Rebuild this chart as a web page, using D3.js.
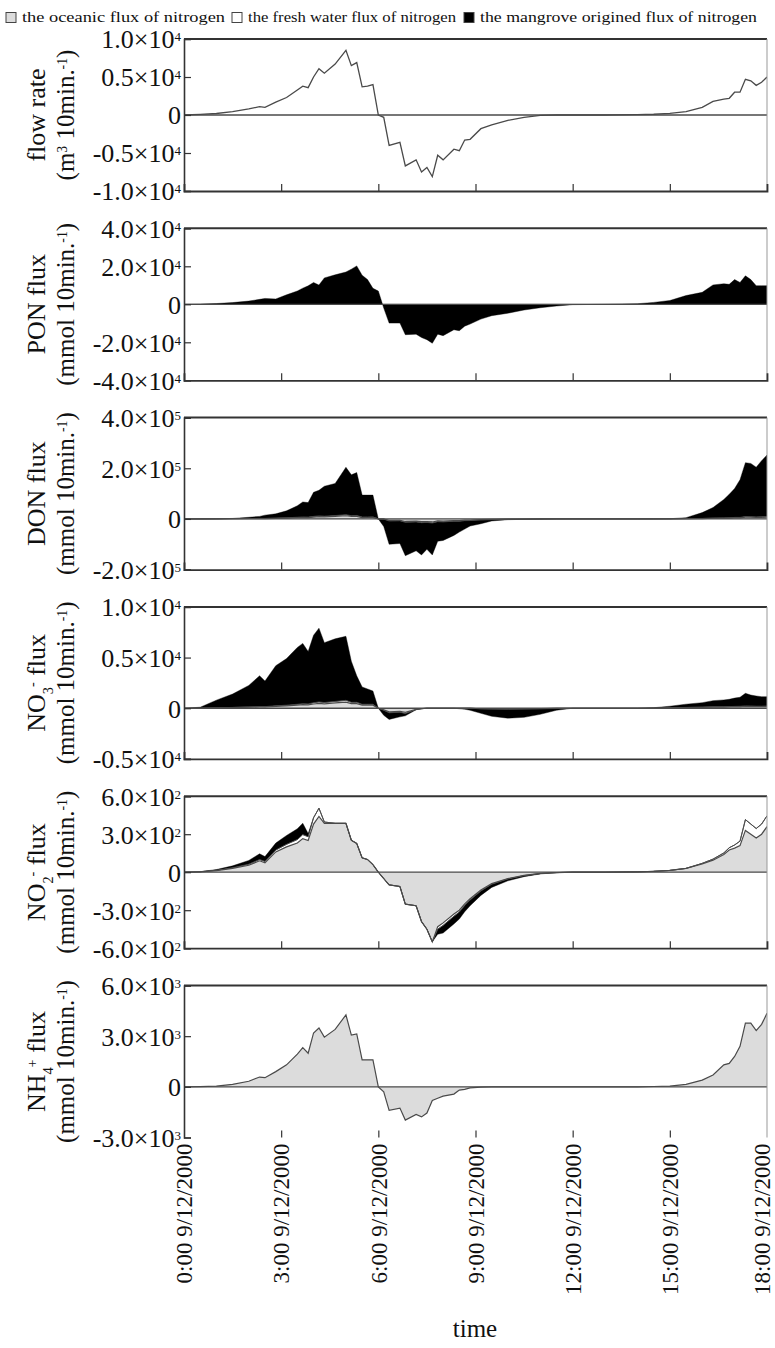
<!DOCTYPE html>
<html><head><meta charset="utf-8">
<script src="https://cdnjs.cloudflare.com/ajax/libs/d3/7.8.5/d3.min.js"></script>
<style>
body{margin:0;background:#fff}
svg{display:block}
text{font-family:"Liberation Serif","Times New Roman",serif;fill:#111}
</style>
</head><body>
<svg id="c" width="775" height="1348"></svg>
<script>
// ---- time axis (minutes after 0:00 9/12/2000) ----
const minutes = [0,30,60,90,120,140,150,170,190,210,220,230,240,250,260,280,300,310,320,330,340,350,360,370,380,400,410,430,440,450,460,470,480,500,510,520,530,550,570,600,630,660,690,720,780,840,870,900,930,960,980,1000,1010,1020,1030,1040,1050,1060,1070,1080];
const xTickMinutes = [0,180,360,540,720,900,1080];
const xTickLabels = ["0:00 9/12/2000","3:00 9/12/2000","6:00 9/12/2000","9:00 9/12/2000","12:00 9/12/2000","15:00 9/12/2000","18:00 9/12/2000"];

// ---- flow rate (m3 10min-1) ----
const flowRate = [0,80,200,450,800,1100,1000,1700,2300,3300,3800,3600,5000,6100,5500,6700,8500,6500,6900,3700,3800,4000,0,-300,-4000,-3600,-6700,-5900,-7500,-6900,-8100,-5300,-5900,-4500,-4700,-3300,-3200,-1800,-1300,-700,-300,-60,0,0,0,40,100,220,450,1000,1800,2100,2200,3000,3000,4700,4500,3900,4300,5000];

// ---- PON flux ----
const ponMangrove = [0,100,400,900,1700,2600,3100,2800,5000,7000,8500,9700,11500,10100,13900,15500,17000,18500,20200,15300,13000,8400,7000,-2000,-9900,-9900,-16000,-15700,-17500,-18600,-20500,-15700,-16500,-13400,-13900,-11500,-10400,-7800,-6000,-4700,-3000,-1800,-900,-200,0,300,1000,2000,4600,6300,10200,10800,10500,13000,11500,15000,13000,9800,9800,9800];

// ---- DON flux ----
const donOcean = [0,0,300,700,1200,1600,1500,2500,3400,5000,5700,5400,7500,9000,8200,10000,12500,9700,10300,5500,5700,6000,0,-400,-6000,-5400,-10000,-8800,-11000,-10300,-12000,-8000,-8800,-6700,-7000,-5000,-4800,-2700,-2000,-1000,-500,-100,0,0,0,0,0,300,700,1500,2700,3100,3300,4500,4500,7000,6700,5800,6400,7500];
const donFresh = [0,0,100,200,400,500,500,800,1100,1600,1900,1800,2500,3000,2700,3300,4200,3200,3400,1800,1900,2000,0,-100,-2000,-1800,-3300,-2900,-3700,-3400,-4000,-2700,-2900,-2200,-2300,-1700,-1600,-900,-700,-300,-200,0,0,0,0,0,0,100,200,500,900,1000,1100,1500,1500,2300,2200,1900,2100,2500];
const donMangrove = [0,0,100,1100,4900,7900,13000,16700,27500,45400,59400,57300,95000,101000,118100,126700,187300,161100,169300,86700,86400,86000,0,-29500,-92000,-89800,-131700,-114300,-127300,-106300,-126000,-77300,-73300,-56100,-42700,-33300,-21600,-15400,-5300,-1700,-800,-900,-500,0,0,0,200,400,4100,23000,41400,72900,92600,114000,149000,212700,210100,196300,221500,242000];

// ---- NO3- flux ----
const no3Ocean = [0,0,30,60,100,130,120,180,230,300,350,330,420,480,430,520,600,450,450,300,300,300,0,-150,-350,-300,-400,-100,-30,0,0,0,0,0,0,0,0,-50,-70,-80,-60,-40,-10,0,0,0,10,30,60,80,100,110,120,130,140,170,160,150,150,160];
const no3Fresh = [0,0,10,20,30,40,40,60,70,90,100,100,120,140,130,150,180,130,130,90,90,90,0,-50,-100,-90,-120,-30,-10,0,0,0,0,0,0,0,0,0,0,0,0,0,0,0,0,0,0,10,20,30,40,40,40,50,50,60,60,50,50,60];
const no3Mangrove = [0,100,760,1320,2120,3030,2520,3960,4600,5610,5950,5170,6660,7280,5910,6180,6320,4060,2620,1710,1510,1310,0,-500,-650,-460,-230,-20,-10,0,0,0,0,0,-50,-100,-200,-450,-730,-900,-840,-560,-190,0,0,0,40,160,320,440,610,670,720,820,890,1240,1080,1010,940,920];

// ---- NO2- flux ----
const no2Ocean = [0,3,12,30,55,90,75,160,200,230,265,250,380,440,386,386,386,252,227,113,100,60,0,-50,-100,-113,-252,-265,-390,-450,-550,-430,-400,-330,-300,-250,-210,-140,-90,-50,-25,-10,-3,0,0,3,7,14,30,65,95,140,175,190,210,330,300,270,300,360];
const no2Fresh = [0,1,3,5,8,10,10,15,20,28,32,30,50,65,10,0,0,0,0,0,0,0,0,0,0,0,0,0,0,0,0,-20,-20,-18,-15,-12,-10,-8,-5,-3,-2,-1,0,0,0,0,0,0,0,5,8,12,18,25,35,85,80,75,80,85];
const no2Mangrove = [0,0,6,15,30,45,38,55,70,85,90,25,0,0,0,0,0,0,0,0,0,0,0,0,0,0,0,0,0,0,0,-40,-60,-60,-55,-50,-45,-35,-25,-15,-8,-3,0,0,0,0,0,0,0,0,0,0,0,0,0,0,0,0,0,0];

// ---- NH4+ flux ----
const nh4Ocean = [0,10,40,150,330,580,540,900,1300,1940,2320,1990,3190,3480,2940,3400,4260,3060,3130,1600,1600,1600,0,-300,-1390,-1260,-1970,-1640,-1780,-1550,-810,-680,-550,-430,-190,-150,-60,-20,0,0,0,0,0,0,0,0,20,40,150,400,700,1300,1390,1800,2400,3770,3770,3330,3700,4350];

// ---- y ticks ----
const flowTicks = [1e4,5e3,0,-5e3,-1e4];
const flowTickText = ["1.0×10^4","0.5×10^4","0","-0.5×10^4","-1.0×10^4"];
const ponTicks = [4e4,2e4,0,-2e4,-4e4];
const ponTickText = ["4.0×10^4","2.0×10^4","0","-2.0×10^4","-4.0×10^4"];
const donTicks = [4e5,2e5,0,-2e5];
const donTickText = ["4.0×10^5","2.0×10^5","0","-2.0×10^5"];
const no3Ticks = [1e4,5e3,0,-5e3];
const no3TickText = ["1.0×10^4","0.5×10^4","0","-0.5×10^4"];
const no2Ticks = [600,300,0,-300,-600];
const no2TickText = ["6.0×10^2","3.0×10^2","0","-3.0×10^2","-6.0×10^2"];
const nh4Ticks = [6000,3000,0,-3000];
const nh4TickText = ["6.0×10^3","3.0×10^3","0","-3.0×10^3"];

const legendLabels = ["the oceanic flux of nitrogen","the fresh water flux of nitrogen","the mangrove origined flux of nitrogen"];

// ---- drawing ----
const svg = d3.select("#c");
const GREY = "#dcdcdc", LINE = "#4a4a4a";
const x = d3.scaleLinear().domain([0,1080]).range([184,767]);
const unitTitle = [["(mmol",""],["  10min.",""],["-1","sup"],[")",""]];
const panels = [
  {title:[[["flow rate",""]],[["(m",""],["3","sup"],["  10min.",""],["-1","sup"],[")",""]]], domain:[-1e4,1e4], ticks:flowTicks, tickText:flowTickText, line:flowRate},
  {title:[[["PON flux",""]],unitTitle], domain:[-4e4,4e4], ticks:ponTicks, tickText:ponTickText, mangrove:ponMangrove},
  {title:[[["DON flux",""]],unitTitle], domain:[-2e5,4e5], ticks:donTicks, tickText:donTickText, ocean:donOcean, fresh:donFresh, mangrove:donMangrove},
  {title:[[["NO",""],["3","sub"],["-","sup"],[" flux",""]],unitTitle], domain:[-5e3,1e4], ticks:no3Ticks, tickText:no3TickText, ocean:no3Ocean, fresh:no3Fresh, mangrove:no3Mangrove},
  {title:[[["NO",""],["2","sub"],["-","sup"],[" flux",""]],unitTitle], domain:[-600,600], ticks:no2Ticks, tickText:no2TickText, ocean:no2Ocean, fresh:no2Fresh, mangrove:no2Mangrove},
  {title:[[["NH",""],["4","sub"],["+","sup"],[" flux",""]],unitTitle], domain:[-3000,6000], ticks:nh4Ticks, tickText:nh4TickText, ocean:nh4Ocean, last:true}
];

function richText(sel, segs, size){
  segs.forEach(([t,k])=>{
    const ts = sel.append("tspan").text(t);
    if(k==="sup"){ts.attr("font-size",size*0.55).attr("baseline-shift","super");}
    else if(k==="sub"){ts.attr("font-size",size*0.55).attr("baseline-shift","sub");}
  });
}

const n = minutes.length;
panels.forEach((p,i)=>{
  const top = 39 + i*189.3, bottom = top + 152;
  const y = d3.scaleLinear().domain(p.domain).range([bottom, top]);
  const g = svg.append("g");
  const cid = "clip"+i;
  svg.append("clipPath").attr("id",cid).append("rect")
    .attr("x",x(0)).attr("y",top).attr("width",x(1080)-x(0)).attr("height",bottom-top);
  const plot = g.append("g").attr("clip-path",`url(#${cid})`);

  const zeros = new Array(n).fill(0);
  const o = p.ocean||zeros, f = p.fresh||zeros, m = p.mangrove||zeros;
  const l1 = o.slice(), l2 = o.map((v,k)=>v+f[k]), l3 = l2.map((v,k)=>v+m[k]);
  const rows = minutes.map((t,k)=>({t, a:0, b:l1[k], c:l2[k], d:l3[k]}));
  const area = (lo,hi)=>d3.area().x(d=>x(d.t)).y0(d=>y(d[lo])).y1(d=>y(d[hi]));
  const line = key=>d3.line().x(d=>x(d.t)).y(d=>y(d[key]));

  if(p.ocean) plot.append("path").datum(rows).attr("d",area("a","b")).attr("fill",GREY);
  if(p.fresh) plot.append("path").datum(rows).attr("d",area("b","c")).attr("fill","#fff");
  if(p.mangrove) plot.append("path").datum(rows).attr("d",area("c","d")).attr("fill","#000").attr("stroke","#000").attr("stroke-width",0.4);
  if(p.ocean) plot.append("path").datum(rows).attr("d",line("b")).attr("fill","none").attr("stroke",LINE).attr("stroke-width",1.2);
  if(p.fresh) plot.append("path").datum(rows).attr("d",line("c")).attr("fill","none").attr("stroke",LINE).attr("stroke-width",0.9);
  if(p.line){
    const lr = minutes.map((t,k)=>({t, v:p.line[k]}));
    plot.append("path").datum(lr).attr("d",d3.line().x(d=>x(d.t)).y(d=>y(d.v)))
      .attr("fill","none").attr("stroke",LINE).attr("stroke-width",1.3);
  }
  // zero line
  g.append("line").attr("x1",x(0)).attr("x2",x(1080)).attr("y1",y(0)).attr("y2",y(0))
    .attr("stroke",LINE).attr("stroke-width",1.3);

  // frame
  g.append("line").attr("x1",x(0)).attr("x2",x(1080)).attr("y1",top).attr("y2",top)
    .attr("stroke","#333").attr("stroke-width",2);
  g.append("line").attr("x1",x(1080)).attr("x2",x(1080)).attr("y1",top).attr("y2",bottom)
    .attr("stroke","#999").attr("stroke-width",1);

  // left axis (inward ticks)
  const ya = d3.axisLeft(y).tickValues(p.ticks).tickSize(-7).tickFormat("");
  const yg = g.append("g").attr("transform",`translate(${x(0)},0)`).call(ya);
  yg.select(".domain").attr("stroke","#333").attr("stroke-width",1.6);
  yg.selectAll(".tick line").attr("stroke","#333").attr("stroke-width",1.2);

  // bottom axis (inward ticks)
  const xa = d3.axisBottom(x).tickValues(xTickMinutes.slice(1,-1)).tickSize(-7).tickFormat("");
  const xg = g.append("g").attr("transform",`translate(0,${bottom})`).call(xa);
  xg.select(".domain").attr("stroke",p.last?"none":"#333").attr("stroke-width",1.8);
  xg.selectAll(".tick line").attr("stroke","#333").attr("stroke-width",1.2);

  // y tick labels
  p.ticks.forEach((v,k)=>{
    const parts = p.tickText[k].split("^");
    const tx = g.append("text").attr("x",181).attr("y",y(v)).attr("dy","0.36em")
      .attr("text-anchor","end").attr("font-size",26);
    tx.append("tspan").text(parts[0]);
    if(parts[1]) tx.append("tspan").text(parts[1]).attr("font-size",13).attr("baseline-shift","super");
  });

  // titles
  const cy = (top+bottom)/2;
  const t1 = g.append("text").attr("transform",`translate(45,${cy}) rotate(-90)`)
    .attr("text-anchor","middle").attr("font-size",26);
  richText(t1, p.title[0], 26);
  const t2 = g.append("text").attr("transform",`translate(74,${cy}) rotate(-90)`)
    .attr("text-anchor","middle").attr("font-size",25);
  richText(t2, p.title[1], 25);

  if(p.last){
    xTickMinutes.forEach((t,k)=>{
      const lx = Math.min(x(t), 762);
      svg.append("text").attr("transform",`translate(${lx},${bottom+6}) rotate(-90)`)
        .attr("dy","0.36em").attr("text-anchor","end").attr("font-size",23).text(xTickLabels[k]);
    });
    svg.append("text").attr("x",475).attr("y",1337).attr("text-anchor","middle")
      .attr("font-size",25).text("time");
  }
});

// legend
const legX = [6,232,464];
const legFill = [GREY,"#fff","#000"];
const legLen = [203,208,277];
legendLabels.forEach((s,k)=>{
  svg.append("rect").attr("x",legX[k]).attr("y",12.5).attr("width",10).attr("height",10)
    .attr("fill",legFill[k]).attr("stroke","#444").attr("stroke-width",1);
  svg.append("text").attr("x",legX[k]+16).attr("y",21.5).attr("font-size",15.5)
    .attr("textLength",legLen[k]).attr("lengthAdjust","spacingAndGlyphs").text(s);
});
</script>
</body></html>
